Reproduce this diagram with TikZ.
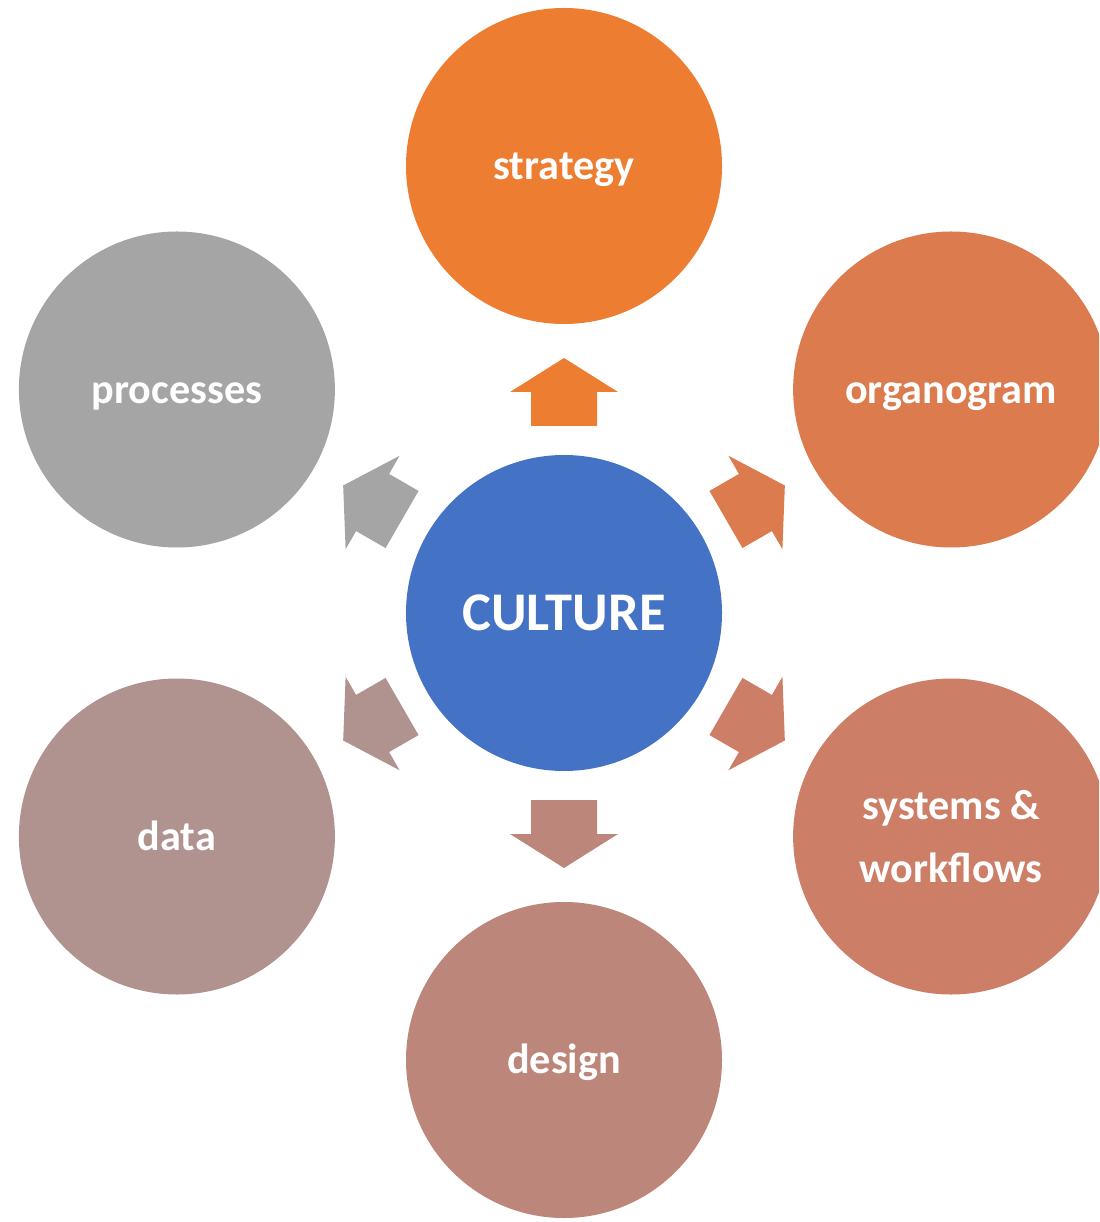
\documentclass[tikz,border=0pt]{standalone}
\usepackage{fontspec}
\setmainfont{Carlito}
\usetikzlibrary{positioning}
\definecolor{colorCulture}{HTML}{4472C4}
\definecolor{colorStrategy}{HTML}{ED7D31}
\definecolor{colorOrgano}{HTML}{DC7B4E}
\definecolor{colorSystems}{HTML}{CD7E66}
\definecolor{colorDesign}{HTML}{BD867B}
\definecolor{colorData}{HTML}{B0928F}
\definecolor{colorProcess}{HTML}{A5A5A5}

\begin{document}
\begin{tikzpicture}[
    bubble/.style={circle, minimum size=3.16cm, inner sep=0pt, text=white,
        font=\bfseries\fontsize{12}{18}\selectfont, align=center},
    oneline/.style={text height=10.5pt, text depth=2.6pt}]
        \useasboundingbox (0,0) rectangle (10.99,-12.22);
        \clip (0,0) rectangle (10.99,-12.22);% right circles run off the page
        \node[bubble, fill=colorCulture, font=\bfseries\fontsize{15.5}{18}\selectfont] (culture) at (5.64,-6.13) {CULTURE};
        \node[bubble, oneline, fill=colorStrategy] (strategy) at ([shift={(90:4.47)}]culture.center) {strategy};
        \node[bubble, oneline, fill=colorOrgano] (organogram) at ([shift={(30:4.47)}]culture.center) {organogram};
        \node[bubble, fill=colorSystems] (systems) at ([shift={(-30:4.47)}]culture.center) {systems \&\\workflows};
        \node[bubble, oneline, fill=colorDesign] (design) at ([shift={(-90:4.47)}]culture.center) {design};
        \node[bubble, oneline, fill=colorData] (data) at ([shift={(-150:4.47)}]culture.center) {data};
        \node[bubble, oneline, fill=colorProcess] (processes) at ([shift={(150:4.47)}]culture.center) {processes};
        % block arrows, one per spoke
        \foreach \a/\c in {90/colorStrategy, 30/colorOrgano, -30/colorSystems, -90/colorDesign, -150/colorData, 150/colorProcess}
            \fill[\c, shift={(culture.center)}, rotate=\a] (1.87,-0.33) -- (2.21,-0.33) -- (2.21,-0.54) -- (2.55,0) -- (2.21,0.54) -- (2.21,0.33) -- (1.87,0.33) -- cycle;
    \end{tikzpicture}
\end{document}
